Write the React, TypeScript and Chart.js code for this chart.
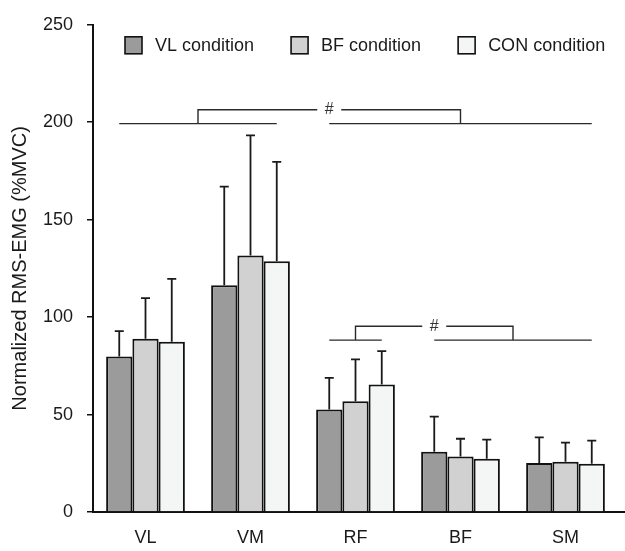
import React, { useEffect, useRef } from "react";
import { Chart, registerables } from "chart.js";

Chart.register(...registerables);

const categories = ["VL", "VM", "RF", "BF", "SM"];
const seriesNames = ["VL condition", "BF condition", "CON condition"];
const vlCondition = [79.8, 116.4, 52.6, 30.9, 25.1];
const vlConditionSD = [13.0, 50.6, 16.2, 18.0, 13.2];
const bfCondition = [88.9, 131.6, 56.8, 28.5, 25.8];
const bfConditionSD = [20.8, 61.7, 21.5, 9.1, 9.8];
const conCondition = [87.4, 128.7, 65.4, 27.3, 24.8];
const conConditionSD = [32.2, 51.0, 17.1, 9.8, 11.8];
const yTicks = [0, 50, 100, 150, 200, 250];
const yTitle = "Normalized RMS-EMG (%MVC)";

// significance brackets: category index ranges, base level and top level (axis units)
const bracketLeftGroups = [[0, 1], [2, 2]];
const bracketRightGroups = [[2, 4], [3, 4]];
const bracketBase = [199.3, 88.2];
const bracketTop = [206.4, 95.3];
const bracketMarks = ["#", "#"];

const FONT = '"Liberation Sans", Arial, sans-serif';
const colors = ["#9b9b9b", "#d0d1d0", "#f4f6f5"];

const errorBarPlugin = {
  id: "errorBars",
  afterDatasetsDraw(chart: any) {
    const ctx = chart.ctx;
    const y = chart.scales.y;
    const sds = [vlConditionSD, bfConditionSD, conConditionSD];
    ctx.save();
    ctx.strokeStyle = "#1a1a1a";
    ctx.lineWidth = 1.8;
    chart.data.datasets.forEach((ds: any, di: number) => {
      const meta = chart.getDatasetMeta(di);
      meta.data.forEach((el: any, i: number) => {
        const top = y.getPixelForValue(ds.data[i] + sds[di][i]);
        ctx.beginPath();
        ctx.moveTo(el.x, el.y);
        ctx.lineTo(el.x, top);
        ctx.moveTo(el.x - 4.5, top);
        ctx.lineTo(el.x + 4.5, top);
        ctx.stroke();
      });
    });
    ctx.restore();
  },
};

const bracketPlugin = {
  id: "brackets",
  afterDatasetsDraw(chart: any) {
    const ctx = chart.ctx;
    const y = chart.scales.y;
    const first = chart.getDatasetMeta(0).data;
    const last = chart.getDatasetMeta(chart.data.datasets.length - 1).data;
    ctx.save();
    ctx.strokeStyle = "#2a2a2a";
    ctx.lineWidth = 1.4;
    ctx.font = "16px " + FONT;
    ctx.fillStyle = "#333";
    ctx.textAlign = "center";
    ctx.textBaseline = "middle";
    bracketLeftGroups.forEach((lg, k) => {
      const rg = bracketRightGroups[k];
      const yb = y.getPixelForValue(bracketBase[k]);
      const yt = y.getPixelForValue(bracketTop[k]);
      const l0 = first[lg[0]].x, l1 = last[lg[1]].x;
      const r0 = first[rg[0]].x, r1 = last[rg[1]].x;
      const lm = (l0 + l1) / 2, rm = (r0 + r1) / 2;
      const mid = (lm + rm) / 2;
      const gap = 12;
      ctx.beginPath();
      ctx.moveTo(l0, yb);
      ctx.lineTo(l1, yb);
      ctx.moveTo(r0, yb);
      ctx.lineTo(r1, yb);
      ctx.moveTo(lm, yb);
      ctx.lineTo(lm, yt);
      ctx.lineTo(mid - gap, yt);
      ctx.moveTo(mid + gap, yt);
      ctx.lineTo(rm, yt);
      ctx.lineTo(rm, yb);
      ctx.stroke();
      ctx.fillText(bracketMarks[k], mid, yt);
    });
    ctx.restore();
  },
};

const legendPlugin = {
  id: "customLegend",
  afterDraw(chart: any) {
    const ctx = chart.ctx;
    const area = chart.chartArea;
    ctx.save();
    ctx.font = "18px " + FONT;
    ctx.textBaseline = "middle";
    ctx.textAlign = "left";
    let x = area.left + 32;
    const boxTop = area.top + 12;
    const size = 17;
    chart.data.datasets.forEach((ds: any) => {
      ctx.fillStyle = ds.backgroundColor;
      ctx.fillRect(x, boxTop, size, size);
      ctx.strokeStyle = "#111";
      ctx.lineWidth = 1.6;
      ctx.strokeRect(x, boxTop, size, size);
      ctx.fillStyle = "#1a1a1a";
      ctx.fillText(ds.label, x + 30, boxTop + size / 2 + 1);
      x += 30 + ctx.measureText(ds.label).width + 37;
    });
    // extend x-axis line to right edge
    ctx.strokeStyle = "#111";
    ctx.lineWidth = 2;
    ctx.beginPath();
    ctx.moveTo(area.right - 1, area.bottom);
    ctx.lineTo(chart.width, area.bottom);
    ctx.stroke();
    ctx.restore();
  },
};

export default function App() {
  const ref = useRef<HTMLCanvasElement>(null);
  useEffect(() => {
    if (!ref.current) return;
    const chart = new Chart(ref.current, {
      type: "bar",
      data: {
        labels: categories,
        datasets: [vlCondition, bfCondition, conCondition].map((d, i) => ({
          label: seriesNames[i],
          data: d,
          backgroundColor: colors[i],
          borderColor: "#111",
          borderWidth: 2,
          categoryPercentage: 0.75,
          barPercentage: 1.0,
        })),
      },
      options: {
        responsive: false,
        animation: false,
        layout: { padding: { top: 18, right: 7, left: 0, bottom: 0 } },
        plugins: {
          legend: { display: false },
          tooltip: { enabled: false },
        },
        scales: {
          x: {
            grid: { display: false, drawTicks: false },
            border: { display: true, color: "#111", width: 2 },
            ticks: { color: "#1a1a1a", font: { size: 18, family: FONT }, padding: 15 },
            afterFit: (s: any) => {
              s.height = 39;
            },
          },
          y: {
            min: 0,
            max: 250,
            afterBuildTicks: (s: any) => {
              s.ticks = yTicks.map((v) => ({ value: v }));
            },
            grid: {
              display: true,
              drawOnChartArea: false,
              drawTicks: true,
              tickLength: 6,
              color: "#111",
              lineWidth: 1.5,
            },
            border: { display: true, color: "#111", width: 2 },
            ticks: { color: "#1a1a1a", font: { size: 18, family: FONT }, padding: 14 },
            title: {
              display: true,
              text: yTitle,
              color: "#1a1a1a",
              font: { size: 20, family: FONT },
              padding: { top: 8, bottom: 0 },
            },
            afterFit: (s: any) => {
              s.width = 93;
            },
          },
        },
      },
      plugins: [errorBarPlugin, bracketPlugin, legendPlugin],
    });
    return () => chart.destroy();
  }, []);
  return (
    <div style={{ position: "fixed", left: 0, top: 0, width: 625, height: 551, background: "#fff" }}>
      <canvas ref={ref} width={625} height={551} style={{ display: "block" }} />
    </div>
  );
}
